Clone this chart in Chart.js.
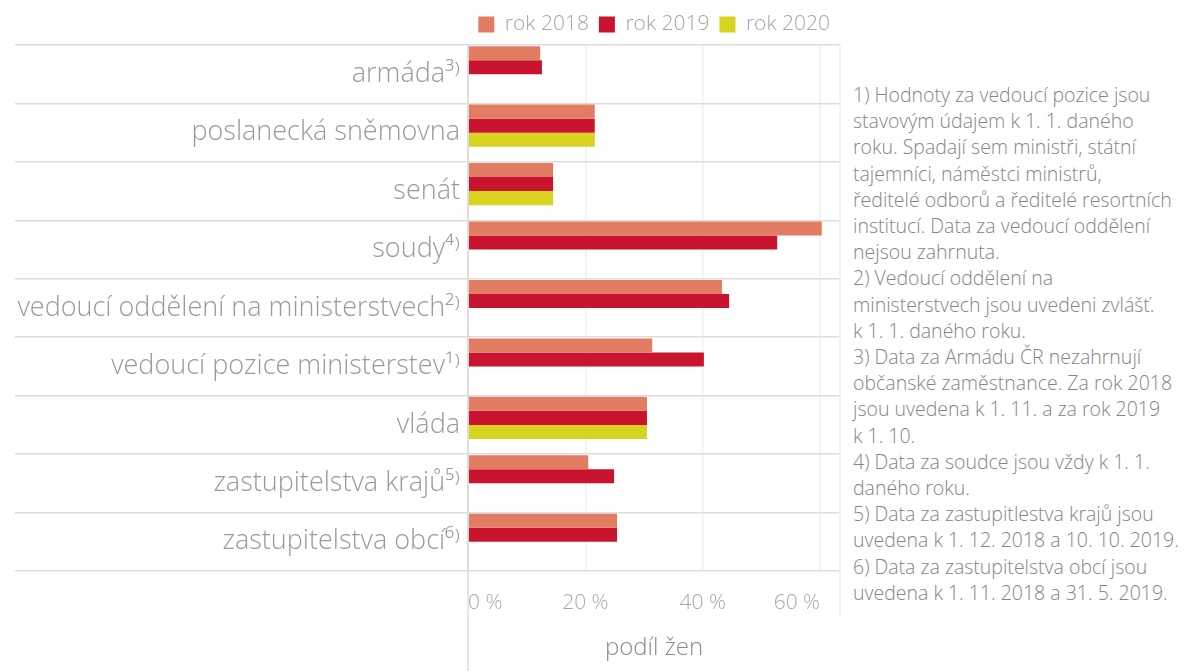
<!DOCTYPE html>
<html lang="cs">
<head>
<meta charset="utf-8">
<script src="https://cdn.jsdelivr.net/npm/chart.js@4"></script>
<style>
    body { margin: 0; background: #fff; font-family: 'Open Sans', sans-serif; }
    #wrap { position: absolute; left: 0; top: 0; width: 850px; height: 671px; }
    #notes {
        position: absolute; left: 853px; top: 82px;
        font-size: 19.5px; line-height: 26.2px; color: #858585;
        white-space: nowrap; font-weight: 300;
    }
</style>
</head>
<body>
<div id="wrap"><canvas id="dataChart"></canvas></div>
<div id="notes">
1) Hodnoty za vedoucí pozice jsou<br>
stavovým údajem k 1. 1. daného<br>
roku. Spadají sem ministři, státní<br>
tajemníci, náměstci ministrů,<br>
ředitelé odborů a ředitelé resortních<br>
institucí. Data za vedoucí oddělení<br>
nejsou zahrnuta.<br>
2) Vedoucí oddělení na<br>
ministerstvech jsou uvedeni zvlášť.<br>
k 1. 1. daného roku.<br>
3) Data za Armádu ČR nezahrnují<br>
občanské zaměstnance. Za rok 2018<br>
jsou uvedena k 1. 11. a za rok 2019<br>
k 1. 10.<br>
4) Data za soudce jsou vždy k 1. 1.<br>
daného roku.<br>
5) Data za zastupitlestva krajů jsou<br>
uvedena k 1. 12. 2018 a 10. 10. 2019.<br>
6) Data za zastupitelstva obcí jsou<br>
uvedena k 1. 11. 2018 a 31. 5. 2019.
</div>
<script>
const categories = [
    'armáda³⁾',
    'poslanecká sněmovna',
    'senát',
    'soudy⁴⁾',
    'vedoucí oddělení na ministerstvech²⁾',
    'vedoucí pozice ministerstev¹⁾',
    'vláda',
    'zastupitelstva krajů⁵⁾',
    'zastupitelstva obcí⁶⁾'
];
const seriesNames = ['rok 2018', 'rok 2019', 'rok 2020'];
const values2018 = [12.3, 21.6, 14.5, 60.3, 43.3, 31.4, 30.5, 20.5, 25.4];
const values2019 = [12.6, 21.6, 14.5, 52.7, 44.5, 40.2, 30.5, 24.9, 25.4];
const values2020 = [null, 21.6, 14.5, null, null, null, 30.5, null, null];
const xTicks = [0, 20, 40, 60];
const axisTitle = 'podíl žen';

const FONT = "'Open Sans', sans-serif";

// extends the zero line and the right edge down below the plot
const axisLines = {
    id: 'axisLines',
    afterDraw(chart) {
        const { ctx, chartArea, scales } = chart;
        const x0 = scales.x.getPixelForValue(0);
        ctx.save();
        ctx.strokeStyle = '#dddddd';
        ctx.lineWidth = 1.5;
        ctx.beginPath();
        ctx.moveTo(x0, chartArea.top);
        ctx.lineTo(x0, chart.height);
        ctx.stroke();
        ctx.strokeStyle = '#eeeeee';
        ctx.beginPath();
        ctx.moveTo(chartArea.right, chartArea.top);
        ctx.lineTo(chartArea.right, chartArea.bottom + 45);
        ctx.stroke();
        ctx.restore();
    }
};

const ctx = document.getElementById('dataChart').getContext('2d');

let chart = new Chart(ctx, {
    type: 'bar',
    data: {
        labels: categories,
        datasets: [
            { label: seriesNames[0], data: values2018, backgroundColor: '#e27c63' },
            { label: seriesNames[1], data: values2019, backgroundColor: '#c8142e' },
            { label: seriesNames[2], data: values2020, backgroundColor: '#d8d31f' },
            { label: '', data: [] } // empty slot, keeps the bars near the top of each row
        ]
    },
    options: {
        indexAxis: 'y',
        responsive: true,
        maintainAspectRatio: false,
        animation: false,
        categoryPercentage: 0.96,
        barPercentage: 1.0,
        layout: { padding: { top: 4, right: 10, left: 0, bottom: 0 } },
        plugins: {
            tooltip: { enabled: false },
            legend: {
                position: 'top',
                align: 'end',
                labels: {
                    boxWidth: 16,
                    boxHeight: 16,
                    padding: 10,
                    color: '#a5a5a5',
                    font: { family: FONT, size: 21, weight: '300' },
                    filter: item => item.datasetIndex < 3
                }
            }
        },
        scales: {
            x: {
                type: 'linear',
                min: 0,
                max: 63.4,
                border: { display: false },
                grid: { color: '#f0f0f0', lineWidth: 1.5, drawTicks: false },
                afterBuildTicks: scale => { scale.ticks = xTicks.map(v => ({ value: v })); },
                ticks: {
                    align: 'inner',
                    padding: 19,
                    color: '#a8a8a8',
                    font: { family: FONT, size: 21, weight: '300' },
                    callback: v => v + ' %'
                },
                title: {
                    display: true,
                    text: axisTitle,
                    color: '#8a8a8a',
                    font: { family: FONT, size: 24, weight: '300' },
                    padding: { top: 0, bottom: 8 }
                }
            },
            y: {
                border: { display: true, color: '#dddddd', width: 1.5 },
                grid: { color: '#dddddd', lineWidth: 1.5, offset: true, tickLength: 453 },
                afterFit: scale => { scale.width = 468; },
                ticks: {
                    padding: -445,
                    color: '#9a9a9a',
                    font: { family: FONT, size: 27, weight: '300' }
                }
            }
        }
    },
    plugins: [axisLines]
});
</script>
</body>
</html>
